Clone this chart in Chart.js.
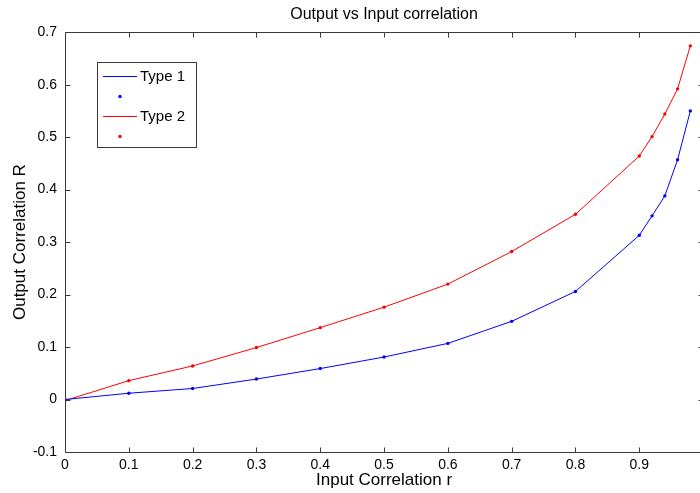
<!DOCTYPE html>
<html>
<head>
<meta charset="utf-8">
<script src="https://cdn.jsdelivr.net/npm/chart.js@4/dist/chart.umd.min.js"></script>
<style>
  body { margin: 0; background: #fff; overflow: hidden; }
  #wrap { width: 713px; height: 493px; }
</style>
</head>
<body>
<div id="wrap"><canvas id="chart" width="713" height="493"></canvas></div>
<script>
// input correlation values (x)
const inputR = [0, 0.1, 0.2, 0.3, 0.4, 0.5, 0.6, 0.7, 0.8, 0.9, 0.92, 0.94, 0.96, 0.98];
// output correlation
const type1 = [0, 0.012, 0.021, 0.039, 0.059, 0.081, 0.107, 0.149, 0.206, 0.313, 0.350, 0.388, 0.457, 0.550];
const type2 = [-0.002, 0.036, 0.064, 0.099, 0.137, 0.176, 0.220, 0.282, 0.353, 0.464, 0.501, 0.544, 0.592, 0.674];
const seriesNames = ['Type 1', 'Type 2'];
const xTicks = [0, 0.1, 0.2, 0.3, 0.4, 0.5, 0.6, 0.7, 0.8, 0.9, 1];
const yTicks = [-0.1, 0, 0.1, 0.2, 0.3, 0.4, 0.5, 0.6, 0.7];

const FONT = 'Liberation Sans, Arial, Helvetica, sans-serif';
const BLUE = '#0000ff';
const RED = '#ff0000';
const AXIS = '#3a3a3a';

const toPoints = ys => inputR.map((x, i) => ({ x: x, y: ys[i] }));

// matlab style box with inward ticks
const boxTicks = {
  id: 'boxTicks',
  afterDraw(chart) {
    const { ctx, chartArea: a, scales } = chart;
    const L = Math.round(a.left) + 0.5, R = Math.round(a.right) + 0.5;
    const T = Math.round(a.top) + 0.5, B = Math.round(a.bottom) + 0.5;
    ctx.save();
    ctx.strokeStyle = AXIS;
    ctx.lineWidth = 1;
    ctx.beginPath();
    ctx.rect(L, T, R - L, B - T);
    const len = 5;
    xTicks.forEach(v => {
      const px = Math.round(scales.x.getPixelForValue(v)) + 0.5;
      ctx.moveTo(px, B); ctx.lineTo(px, B - len);
      ctx.moveTo(px, T); ctx.lineTo(px, T + len);
    });
    yTicks.forEach(v => {
      const py = Math.round(scales.y.getPixelForValue(v)) + 0.5;
      ctx.moveTo(L, py); ctx.lineTo(L + len, py);
      ctx.moveTo(R, py); ctx.lineTo(R - len, py);
    });
    ctx.stroke();
    ctx.restore();
  }
};

// legend inside the plot, one row per dataset (lines and markers separately)
const boxLegend = {
  id: 'boxLegend',
  afterDraw(chart) {
    const { ctx } = chart;
    const x0 = 97, y0 = 62, w = 99, h = 85;
    ctx.save();
    ctx.fillStyle = '#fff';
    ctx.fillRect(x0, y0, w, h);
    ctx.strokeStyle = AXIS;
    ctx.lineWidth = 1;
    ctx.strokeRect(x0 + 0.5, y0 + 0.5, w, h);
    ctx.font = '15px ' + FONT;
    ctx.textBaseline = 'middle';
    chart.data.datasets.forEach((ds, i) => {
      const yy = y0 + 14 + i * 20;
      if (ds.showLine === false) {
        ctx.fillStyle = ds.backgroundColor;
        ctx.beginPath();
        ctx.arc(120, yy + 0.5, 1.7, 0, Math.PI * 2);
        ctx.fill();
      } else {
        ctx.strokeStyle = ds.borderColor;
        ctx.beginPath();
        ctx.moveTo(103, yy + 0.5);
        ctx.lineTo(137, yy + 0.5);
        ctx.stroke();
      }
      if (ds.label) {
        ctx.fillStyle = '#000';
        ctx.fillText(ds.label, 140, yy + 1);
      }
    });
    ctx.restore();
  }
};

new Chart(document.getElementById('chart'), {
  type: 'scatter',
  data: {
    datasets: [
      { label: seriesNames[0], data: toPoints(type1), showLine: true, borderColor: BLUE, backgroundColor: BLUE, borderWidth: 1, pointRadius: 0 },
      { label: '', data: toPoints(type1), showLine: false, borderColor: BLUE, backgroundColor: BLUE, pointRadius: 1.7, borderWidth: 0 },
      { label: seriesNames[1], data: toPoints(type2), showLine: true, borderColor: RED, backgroundColor: RED, borderWidth: 1, pointRadius: 0 },
      { label: '', data: toPoints(type2), showLine: false, borderColor: RED, backgroundColor: RED, pointRadius: 1.7, borderWidth: 0 }
    ]
  },
  options: {
    responsive: false,
    animation: false,
    layout: { padding: { left: 0, right: 0, top: 0, bottom: 0 } },
    scales: {
      x: {
        type: 'linear', min: 0, max: 1,
        afterBuildTicks: axis => { axis.ticks = xTicks.map(v => ({ value: v })); },
        afterFit: axis => { axis.height = 41; },
        grid: { display: false, drawTicks: false },
        border: { display: false },
        ticks: { color: '#000', font: { family: FONT, size: 14, lineHeight: 1 }, padding: 6, maxRotation: 0,
                 callback: v => String(Math.round(v * 10) / 10) },
        title: { display: true, text: 'Input Correlation r', color: '#000', font: { family: FONT, size: 17, lineHeight: 1 }, padding: { top: 0, bottom: 4 } }
      },
      y: {
        type: 'linear', min: -0.1, max: 0.7,
        afterBuildTicks: axis => { axis.ticks = yTicks.map(v => ({ value: v })); },
        afterFit: axis => { axis.width = 65; },
        grid: { display: false, drawTicks: false },
        border: { display: false },
        ticks: { color: '#000', font: { family: FONT, size: 14 }, padding: 8,
                 callback: v => String(Math.round(v * 10) / 10) },
        title: { display: true, text: 'Output Correlation R', color: '#000', font: { family: FONT, size: 17, lineHeight: 1 }, padding: { top: 12, bottom: 0 } }
      }
    },
    plugins: {
      legend: { display: false },
      tooltip: { enabled: false },
      title: { display: true, fullSize: false, text: 'Output vs Input correlation', color: '#000', font: { family: FONT, size: 16, weight: 'normal', lineHeight: 1.2 }, padding: { top: 5, bottom: 8 } }
    }
  },
  plugins: [boxTicks, boxLegend]
});
</script>
</body>
</html>
